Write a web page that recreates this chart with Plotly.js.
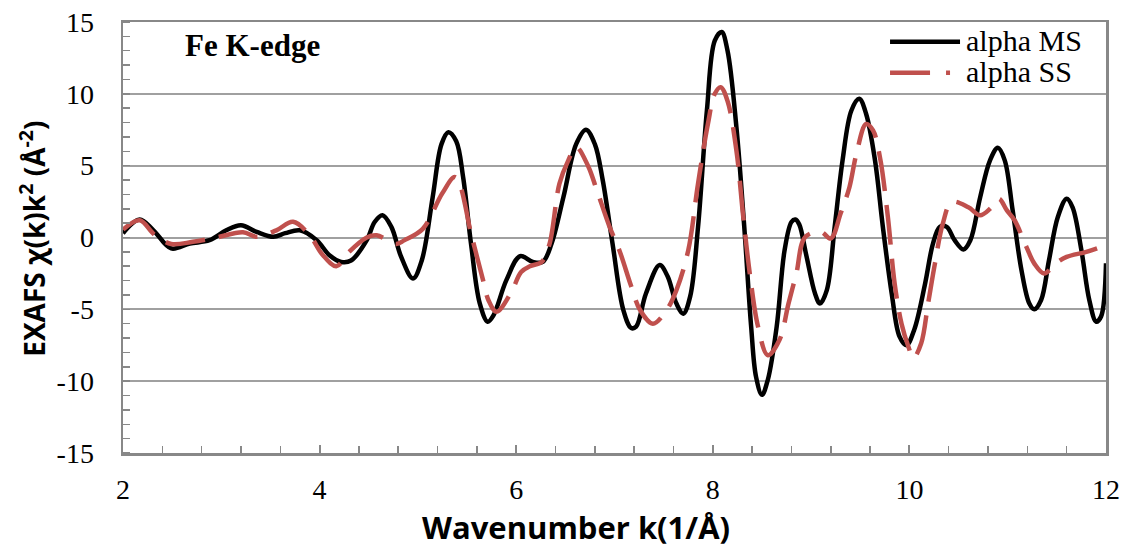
<!DOCTYPE html>
<html>
<head>
<meta charset="utf-8">
<script src="https://cdn.plot.ly/plotly-3.0.1.min.js"></script>
<style>
  html, body { margin: 0; padding: 0; background: #fff; }
  #chart { width: 1132px; height: 549px; }
</style>
</head>
<body>
<div id="chart"></div>
<script>
// Fe K-edge EXAFS, k^2-weighted chi(k): multiple- vs single-scattering fits
const kMS = [2.00, 2.17, 2.31, 2.49, 2.68, 2.88, 3.05, 3.20, 3.36, 3.53, 3.65, 3.80, 3.97, 4.10, 4.22, 4.32,
  4.48, 4.56, 4.64, 4.73, 4.83, 4.95, 5.04, 5.15, 5.24, 5.31, 5.39, 5.46, 5.54, 5.63, 5.71, 5.77,
  5.90, 6.04, 6.17, 6.27, 6.36, 6.48, 6.61, 6.71, 6.80, 6.88, 6.98, 7.09, 7.17, 7.22, 7.32, 7.46,
  7.54, 7.63, 7.70, 7.77, 7.85, 7.94, 8.02, 8.09, 8.15, 8.24, 8.32, 8.39, 8.44, 8.50, 8.56, 8.65,
  8.73, 8.80, 8.84, 8.88, 8.95, 9.04, 9.09, 9.16, 9.24, 9.32, 9.41, 9.49, 9.56, 9.65, 9.73, 9.82,
  9.90, 9.97, 10.05, 10.16, 10.24, 10.31, 10.38, 10.46, 10.55, 10.62, 10.72, 10.82, 10.90, 10.97,
  11.05, 11.14, 11.22, 11.27, 11.34, 11.42, 11.51, 11.60, 11.66, 11.75, 11.83, 11.90, 11.95, 12.00];
const chiMS = [0.3, 1.25, 0.5, -0.76, -0.42, -0.19, 0.5, 0.85, 0.39, 0.05, 0.3, 0.5, -0.19, -1.23, -1.7, -1.6,
  -0.19, 1.08, 1.55, 0.74, -1.35, -2.85, -1.58, 2.8, 6.5, 7.33, 6.7, 4.2, -0.42, -4.6, -5.86, -5.4,
  -2.97, -1.3, -1.7, -1.7, -0.42, 2.8, 6.5, 7.5, 6.5, 4.0, -0.42, -5.05, -6.3, -6.2, -3.9, -1.92,
  -2.7, -4.6, -5.3, -4.1, 0.74, 8.84, 13.7, 14.3, 13.0, 7.7, 0.74, -6.2, -9.7, -10.95, -9.9, -6.2,
  -0.9, 1.08, 1.25, 0.9, -1.2, -3.9, -4.6, -3.66, 0.74, 5.37, 8.84, 9.65, 8.6, 5.37, 0.74, -3.9,
  -6.9, -7.5, -6.4, -3.2, -0.42, 0.74, 0.74, -0.19, -0.83, -0.19, 2.8, 5.37, 6.25, 5.37,
  1.9, -2.27, -4.6, -5.0, -4.35, -1.58, 1.43, 2.7, 2.1, -0.9, -4.35, -5.86, -5.5, -1.8];

const kSS = [2.00, 2.17, 2.32, 2.49, 2.71, 2.95, 3.22, 3.36, 3.56, 3.73, 3.90, 4.03, 4.17, 4.30, 4.48, 4.58,
  4.78, 4.86, 5.05, 5.25, 5.38, 5.55, 5.66, 5.72, 5.80, 5.95, 6.05, 6.14, 6.26, 6.34, 6.44, 6.53,
  6.61, 6.73, 6.82, 6.95, 7.05, 7.17, 7.26, 7.39, 7.53, 7.63, 7.75, 7.85, 7.95, 8.02, 8.08, 8.15,
  8.24, 8.31, 8.38, 8.46, 8.56, 8.68, 8.77, 8.85, 8.94, 9.10, 9.20, 9.30, 9.39, 9.46, 9.56, 9.63,
  9.70, 9.78, 9.85, 9.92, 9.99, 10.04, 10.12, 10.19, 10.26, 10.34, 10.43, 10.60, 10.72, 10.82,
  10.91, 10.99, 11.07, 11.19, 11.27, 11.37, 11.49, 11.60, 11.80, 12.00];
const chiSS = [0.55, 1.2, 0.2, -0.45, -0.3, 0.0, 0.37, 0.05, 0.5, 1.1, 0.15, -1.2, -2.0, -1.0, 0.0, 0.15,
  -0.45, -0.2, 0.6, 3.1, 4.2, 0.0, -2.9, -4.4, -5.17, -3.8, -2.4, -2.0, -1.7, -0.42, 3.75, 5.37,
  6.3, 5.0, 3.3, 0.74, -0.9, -3.4, -5.05, -6.0, -5.05, -3.66, -0.9, 3.75, 7.9, 10.0, 10.46, 9.5,
  6.06, 1.43, -2.7, -6.2, -8.2, -7.1, -4.6, -2.5, 0.04, 0.39, -0.07, 1.67, 3.5, 5.8, 7.9, 7.45,
  5.6, 1.5, -3.2, -6.0, -7.6, -8.4, -7.36, -4.6, -1.8, 0.97, 2.47, 2.1, 1.55, 2.0,
  2.7, 1.9, 1.2, -0.65, -1.8, -2.5, -1.8, -1.35, -1.0, -0.53];

const seriesNames = ['alpha MS', 'alpha SS'];
const seriesColors = ['#000000', '#C0504D'];
const xTickVals = [2, 4, 6, 8, 10, 12];
const xTickText = ['2', '4', '6', '8', '10', '12'];
const yTickVals = [-15, -10, -5, 0, 5, 10, 15];
const yTickText = ['-15', '-10', '-5', '0', '5', '10', '15'];

const serif = 'Liberation Serif, Times New Roman, serif';
const sansBold = 'Open Sans, Liberation Sans, sans-serif';
const ssDash = '40px,14px';

const traces = [
  {
    x: kMS, y: chiMS, name: seriesNames[0], type: 'scatter', mode: 'lines',
    line: { color: seriesColors[0], width: 4.5, shape: 'spline', smoothing: 1 }
  },
  {
    x: kSS, y: chiSS, name: seriesNames[1], type: 'scatter', mode: 'lines',
    line: { color: seriesColors[1], width: 4.5, shape: 'spline', smoothing: 1, dash: ssDash }
  }
];

// compact legend in the upper-right corner: sample line + label per series
const legendRows = [0.954, 0.882];
const legendShapes = seriesNames.map((n, i) => ({
  type: 'line', xref: 'paper', yref: 'paper',
  x0: 0.7803, x1: 0.8515, y0: legendRows[i], y1: legendRows[i],
  line: { color: seriesColors[i], width: 4.5, dash: i === 0 ? 'solid' : '40px,16px,4px' }
}));
const legendLabels = seriesNames.map((n, i) => ({
  text: n, xref: 'paper', yref: 'paper', x: 0.856, y: legendRows[i] + 0.002,
  xanchor: 'left', yanchor: 'middle', showarrow: false,
  font: { family: serif, size: 30, color: '#000' }
}));

const layout = {
  width: 1132, height: 549,
  margin: { l: 123, r: 26, t: 22, b: 96 },
  paper_bgcolor: '#ffffff', plot_bgcolor: '#ffffff',
  showlegend: false,
  xaxis: {
    range: [2, 12], tickmode: 'array', tickvals: xTickVals, ticktext: xTickText,
    ticks: 'inside', ticklen: 8, tickwidth: 2, tickcolor: '#888',
    showline: true, linecolor: '#888', linewidth: 2.5, mirror: true,
    showgrid: false, zeroline: false,
    tickfont: { family: serif, size: 28, color: '#000' },
    ticklabelstandoff: 10,
    minor: { dtick: 0.4, tick0: 2, ticks: 'inside', ticklen: 7, tickwidth: 1.5, tickcolor: '#888', showgrid: false }
  },
  yaxis: {
    range: [-15, 15], tickmode: 'array', tickvals: yTickVals, ticktext: yTickText,
    ticks: '', showline: true, linecolor: '#888', linewidth: 2.5, mirror: true,
    showgrid: true, gridcolor: '#a0a0a0', gridwidth: 2, zeroline: false,
    tickfont: { family: serif, size: 28, color: '#000' },
    ticklabelstandoff: 21,
    minor: { dtick: 1, tick0: 0, ticks: 'inside', ticklen: 7, tickwidth: 1.5, tickcolor: '#888', showgrid: false }
  },
  shapes: legendShapes,
  annotations: [
    {
      text: '<b>Fe K-edge</b>', xref: 'paper', yref: 'paper', x: 0.061, y: 0.945,
      xanchor: 'left', yanchor: 'middle', showarrow: false,
      font: { family: serif, size: 31, color: '#000' }
    },
    {
      // x-axis title
      text: '<b>Wavenumber k(1/Å)</b>', xref: 'paper', yref: 'paper', x: 0.461, y: -0.172,
      xanchor: 'center', yanchor: 'middle', showarrow: false,
      font: { family: sansBold, size: 31, color: '#000' }
    },
    {
      // y-axis title
      text: '<b>EXAFS χ(k)k<sup>2</sup> (Å<sup>-2</sup>)</b>', xref: 'paper', yref: 'paper', x: -0.092, y: 0.496,
      xanchor: 'center', yanchor: 'middle', textangle: -90, showarrow: false,
      font: { family: sansBold, size: 28, color: '#000' }
    }
  ].concat(legendLabels)
};

Plotly.newPlot('chart', traces, layout, { displayModeBar: false, staticPlot: true });
</script>
</body>
</html>
